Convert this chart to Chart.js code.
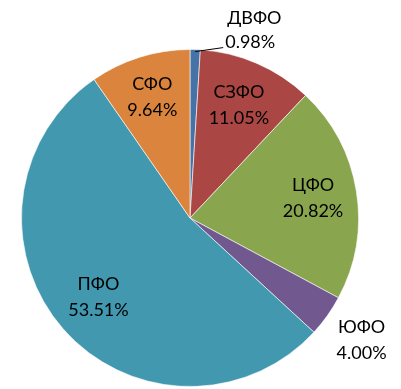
<!DOCTYPE html>
<html>
<head>
<meta charset="utf-8">
<script src="https://cdn.jsdelivr.net/npm/chart.js@4.4.0/dist/chart.umd.min.js"></script>
<style>
  body { margin: 0; background: #fff; }
  #pie { display: block; }
</style>
</head>
<body>
<canvas id="pie" width="401" height="389"></canvas>
<script>
// districts and their shares, clockwise from 12 o'clock
const districts = ['ДВФО', 'СЗФО', 'ЦФО', 'ЮФО', 'ПФО', 'СФО'];
const shares = [0.98, 11.05, 20.82, 4.00, 53.51, 9.64];
const colors = ['#4572A7', '#AA4643', '#89A54E', '#71588F', '#4198AF', '#DB843D'];

// where each label sits, as a fraction of the radius ('lead' = outside with a leader line)
const labelPlace = [ 'lead', 0.73, 0.74, 1.25, 0.72, 0.75 ];

// labels: name on one line, percent below -----------------------------------
const pieLabels = {
  id: 'pieLabels',
  afterDatasetsDraw(chart) {
    const ctx = chart.ctx;
    const meta = chart.getDatasetMeta(0);
    ctx.save();
    ctx.font = '18px Lato';
    ctx.fillStyle = '#000';
    ctx.textAlign = 'center';
    ctx.textBaseline = 'middle';
    meta.data.forEach(function(arc, i){
      const p = arc.getProps(['x', 'y', 'startAngle', 'endAngle', 'outerRadius'], true);
      const mid = (p.startAngle + p.endAngle) / 2;
      const pct = shares[i].toFixed(2) + '%';
      const place = labelPlace[i];
      if (place === 'lead') {
        // small slice: short leader line out to the right
        const ex = p.x + Math.cos(mid) * p.outerRadius;
        const ey = p.y + Math.sin(mid) * p.outerRadius;
        ctx.strokeStyle = '#000';
        ctx.lineWidth = 1;
        ctx.beginPath();
        ctx.moveTo(ex, ey + 2);
        ctx.lineTo(ex + 28, ey - 2);
        ctx.stroke();
        ctx.textAlign = 'left';
        ctx.fillText(districts[i], ex + 32, ey - 31);
        ctx.fillText(pct, ex + 30, ey - 7);
        ctx.textAlign = 'center';
      } else {
        const lx = p.x + Math.cos(mid) * p.outerRadius * place;
        const ly = p.y + Math.sin(mid) * p.outerRadius * place;
        ctx.fillText(districts[i], lx, ly - 13);
        ctx.fillText(pct, lx, ly + 13);
      }
    });
    ctx.restore();
  }
};

new Chart(document.getElementById('pie'), {
  type: 'pie',
  data: {
    labels: districts,
    datasets: [{
      data: shares,
      backgroundColor: colors,
      borderColor: 'rgba(255,255,255,0.6)',
      borderWidth: 1
    }]
  },
  options: {
    responsive: false,
    animation: false,
    layout: { padding: { left: 21, right: 42, top: 49, bottom: 2 } },
    plugins: {
      legend: { display: false },
      tooltip: { enabled: false }
    }
  },
  plugins: [pieLabels]
});
</script>
</body>
</html>
